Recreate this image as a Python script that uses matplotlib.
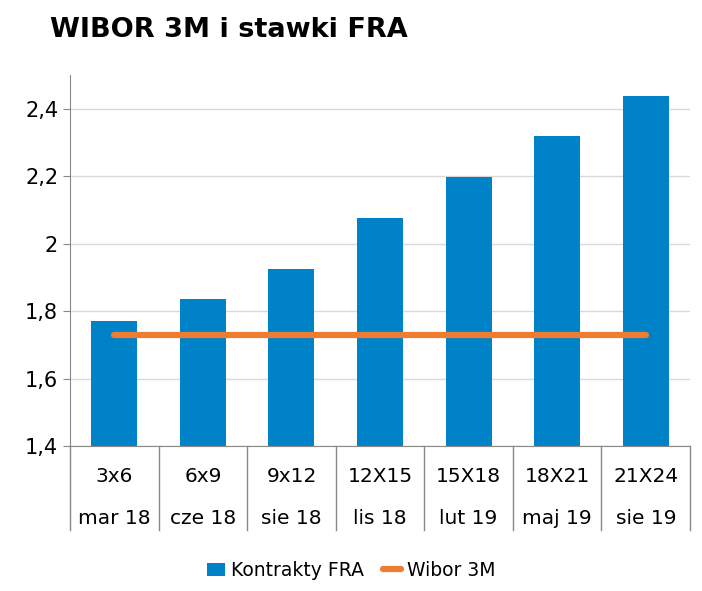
import matplotlib
matplotlib.use("Agg")
import matplotlib.pyplot as plt
import numpy as np

contracts = ["3x6", "6x9", "9x12", "12X15", "15X18", "18X21", "21X24"]
dates = ["mar 18", "cze 18", "sie 18", "lis 18", "lut 19", "maj 19", "sie 19"]
fra = [1.77, 1.835, 1.925, 2.075, 2.197, 2.318, 2.438]
wibor = [1.73] * 7

plt.rcParams["font.family"] = "DejaVu Sans"
fig = plt.figure(figsize=(7.02, 5.91), dpi=100)
ax = fig.add_axes([0.0997, 0.2453, 0.8833, 0.628])
x = np.arange(len(contracts))
bars = ax.bar(x, fra, width=0.52, color="#0082C8", label="Kontrakty FRA", zorder=2)
line, = ax.plot(x, wibor, color="#ED7D31", lw=4.5, label="Wibor 3M", zorder=3, solid_capstyle="round")
ax.set_xlim(-0.5, 6.5)
ax.set_ylim(1.4, 2.5)
ax.set_yticks([1.4, 1.6, 1.8, 2.0, 2.2, 2.4])
ax.set_yticklabels(["1,4", "1,6", "1,8", "2", "2,2", "2,4"], fontsize=15)
ax.yaxis.grid(True, color="#D9D9D9", lw=1, zorder=0)
ax.set_xticks([])
for s in ["top", "right"]:
    ax.spines[s].set_visible(False)
ax.spines["left"].set_color("#888888")
ax.spines["bottom"].set_color("#888888")
ax.tick_params(axis="y", length=5, color="#888888")

tr = ax.get_xaxis_transform()
for b in np.arange(-0.5, 7.0, 1.0):
    ax.plot([b, b], [0, -0.225], transform=tr, color="#888888", lw=1, clip_on=False)
for i in range(len(contracts)):
    ax.text(i, -0.083, contracts[i], transform=tr, ha="center", va="center", fontsize=14.5)
    ax.text(i, -0.196, dates[i], transform=tr, ha="center", va="center", fontsize=14.5)

fig.text(0.071, 0.949, "WIBOR 3M i stawki FRA", fontsize=19.5, fontweight="bold", va="center")
fig.legend([bars, line], ["Kontrakty FRA", "Wibor 3M"], loc="center", bbox_to_anchor=(0.5, 0.035),
           ncol=2, frameon=False, fontsize=13.5, handlelength=1.0, columnspacing=1.0, handletextpad=0.3)
fig.savefig("out.png", dpi=100)
